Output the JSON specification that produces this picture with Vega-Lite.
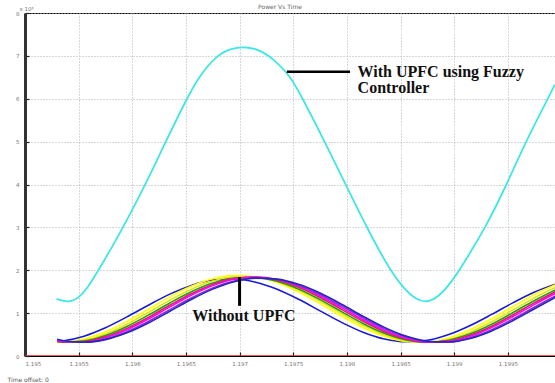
{
  "$schema": "https://vega.github.io/schema/vega-lite/v6.json",
  "width": 530,
  "height": 343,
  "autosize": {"type": "none"},
  "padding": {"left": 25, "top": 13, "right": 0, "bottom": 27},
  "background": "white",
  "title": {"text": "Power Vs Time", "fontSize": 6, "color": "#666", "font": "DejaVu Sans", "fontWeight": "normal", "offset": 2, "dx": -10, "dy": 6},
  "config": {
    "view": {"stroke": "#000", "strokeWidth": 1},
    "axis": {"gridDash": [1, 2], "gridColor": "#b0b0b0", "gridWidth": 1, "labelFont": "DejaVu Sans", "labelFontSize": 5.5, "labelColor": "#777", "tickColor": "#222", "tickSize": -4, "tickWidth": 1.2}
  },
  "datasets": {
    "curves": [
      {"s":"s1","t":1.1953,"v":0.337},{"s":"s1","t":1.19535,"v":0.351},{"s":"s1","t":1.19555,"v":0.463},{"s":"s1","t":1.19575,"v":0.659},{"s":"s1","t":1.19595,"v":0.912},{"s":"s1","t":1.19615,"v":1.185},{"s":"s1","t":1.19635,"v":1.443},{"s":"s1","t":1.19655,"v":1.646},{"s":"s1","t":1.19675,"v":1.771},{"s":"s1","t":1.19695,"v":1.797},{"s":"s1","t":1.19715,"v":1.721},{"s":"s1","t":1.19735,"v":1.556},{"s":"s1","t":1.19755,"v":1.322},{"s":"s1","t":1.19775,"v":1.053},{"s":"s1","t":1.19795,"v":0.785},{"s":"s1","t":1.19815,"v":0.556},{"s":"s1","t":1.19835,"v":0.397},{"s":"s1","t":1.19855,"v":0.332},{"s":"s1","t":1.19875,"v":0.367},{"s":"s1","t":1.19895,"v":0.5},{"s":"s1","t":1.19915,"v":0.711},{"s":"s1","t":1.19935,"v":0.97},{"s":"s1","t":1.19955,"v":1.244},{"s":"s1","t":1.19975,"v":1.492},{"s":"s1","t":1.19995,"v":1.682},
      {"s":"s2","t":1.1953,"v":0.32},{"s":"s2","t":1.19535,"v":0.322},{"s":"s2","t":1.19555,"v":0.393},{"s":"s2","t":1.19575,"v":0.563},{"s":"s2","t":1.19595,"v":0.807},{"s":"s2","t":1.19615,"v":1.092},{"s":"s2","t":1.19635,"v":1.378},{"s":"s2","t":1.19655,"v":1.625},{"s":"s2","t":1.19675,"v":1.8},{"s":"s2","t":1.19695,"v":1.877},{"s":"s2","t":1.19715,"v":1.847},{"s":"s2","t":1.19735,"v":1.714},{"s":"s2","t":1.19755,"v":1.495},{"s":"s2","t":1.19775,"v":1.222},{"s":"s2","t":1.19795,"v":0.932},{"s":"s2","t":1.19815,"v":0.665},{"s":"s2","t":1.19835,"v":0.458},{"s":"s2","t":1.19855,"v":0.34},{"s":"s2","t":1.19875,"v":0.328},{"s":"s2","t":1.19895,"v":0.422},{"s":"s2","t":1.19915,"v":0.612},{"s":"s2","t":1.19935,"v":0.867},{"s":"s2","t":1.19955,"v":1.156},{"s":"s2","t":1.19975,"v":1.436},{"s":"s2","t":1.19995,"v":1.67},
      {"s":"s3","t":1.1953,"v":0.325},{"s":"s3","t":1.19535,"v":0.32},{"s":"s3","t":1.19555,"v":0.366},{"s":"s3","t":1.19575,"v":0.513},{"s":"s3","t":1.19595,"v":0.74},{"s":"s3","t":1.19615,"v":1.015},{"s":"s3","t":1.19635,"v":1.301},{"s":"s3","t":1.19655,"v":1.557},{"s":"s3","t":1.19675,"v":1.748},{"s":"s3","t":1.19695,"v":1.848},{"s":"s3","t":1.19715,"v":1.844},{"s":"s3","t":1.19735,"v":1.735},{"s":"s3","t":1.19755,"v":1.536},{"s":"s3","t":1.19775,"v":1.276},{"s":"s3","t":1.19795,"v":0.991},{"s":"s3","t":1.19815,"v":0.718},{"s":"s3","t":1.19835,"v":0.497},{"s":"s3","t":1.19855,"v":0.358},{"s":"s3","t":1.19875,"v":0.322},{"s":"s3","t":1.19895,"v":0.39},{"s":"s3","t":1.19915,"v":0.557},{"s":"s3","t":1.19935,"v":0.797},{"s":"s3","t":1.19955,"v":1.078},{"s":"s3","t":1.19975,"v":1.36},{"s":"s3","t":1.19995,"v":1.605},
      {"s":"s4","t":1.1953,"v":0.334},{"s":"s4","t":1.19535,"v":0.323},{"s":"s4","t":1.19555,"v":0.35},{"s":"s4","t":1.19575,"v":0.477},{"s":"s4","t":1.19595,"v":0.689},{"s":"s4","t":1.19615,"v":0.953},{"s":"s4","t":1.19635,"v":1.237},{"s":"s4","t":1.19655,"v":1.498},{"s":"s4","t":1.19675,"v":1.701},{"s":"s4","t":1.19695,"v":1.818},{"s":"s4","t":1.19715,"v":1.833},{"s":"s4","t":1.19735,"v":1.744},{"s":"s4","t":1.19755,"v":1.563},{"s":"s4","t":1.19775,"v":1.315},{"s":"s4","t":1.19795,"v":1.035},{"s":"s4","t":1.19815,"v":0.76},{"s":"s4","t":1.19835,"v":0.53},{"s":"s4","t":1.19855,"v":0.376},{"s":"s4","t":1.19875,"v":0.32},{"s":"s4","t":1.19895,"v":0.369},{"s":"s4","t":1.19915,"v":0.517},{"s":"s4","t":1.19935,"v":0.742},{"s":"s4","t":1.19955,"v":1.015},{"s":"s4","t":1.19975,"v":1.296},{"s":"s4","t":1.19995,"v":1.548},
      {"s":"s5","t":1.1953,"v":0.345},{"s":"s5","t":1.19535,"v":0.33},{"s":"s5","t":1.19555,"v":0.337},{"s":"s5","t":1.19575,"v":0.446},{"s":"s5","t":1.19595,"v":0.644},{"s":"s5","t":1.19615,"v":0.901},{"s":"s5","t":1.19635,"v":1.184},{"s":"s5","t":1.19655,"v":1.452},{"s":"s5","t":1.19675,"v":1.669},{"s":"s5","t":1.19695,"v":1.804},{"s":"s5","t":1.19715,"v":1.838},{"s":"s5","t":1.19735,"v":1.769},{"s":"s5","t":1.19755,"v":1.602},{"s":"s5","t":1.19775,"v":1.365},{"s":"s5","t":1.19795,"v":1.088},{"s":"s5","t":1.19815,"v":0.809},{"s":"s5","t":1.19835,"v":0.568},{"s":"s5","t":1.19855,"v":0.398},{"s":"s5","t":1.19875,"v":0.323},{"s":"s5","t":1.19895,"v":0.352},{"s":"s5","t":1.19915,"v":0.483},{"s":"s5","t":1.19935,"v":0.695},{"s":"s5","t":1.19955,"v":0.962},{"s":"s5","t":1.19975,"v":1.244},{"s":"s5","t":1.19995,"v":1.505},
      {"s":"s6","t":1.1953,"v":0.357},{"s":"s6","t":1.19535,"v":0.337},{"s":"s6","t":1.19555,"v":0.329},{"s":"s6","t":1.19575,"v":0.425},{"s":"s6","t":1.19595,"v":0.612},{"s":"s6","t":1.19615,"v":0.863},{"s":"s6","t":1.19635,"v":1.145},{"s":"s6","t":1.19655,"v":1.417},{"s":"s6","t":1.19675,"v":1.643},{"s":"s6","t":1.19695,"v":1.791},{"s":"s6","t":1.19715,"v":1.84},{"s":"s6","t":1.19735,"v":1.785},{"s":"s6","t":1.19755,"v":1.63},{"s":"s6","t":1.19775,"v":1.401},{"s":"s6","t":1.19795,"v":1.128},{"s":"s6","t":1.19815,"v":0.847},{"s":"s6","t":1.19835,"v":0.597},{"s":"s6","t":1.19855,"v":0.417},{"s":"s6","t":1.19875,"v":0.327},{"s":"s6","t":1.19895,"v":0.341},{"s":"s6","t":1.19915,"v":0.459},{"s":"s6","t":1.19935,"v":0.662},{"s":"s6","t":1.19955,"v":0.923},{"s":"s6","t":1.19975,"v":1.205},{"s":"s6","t":1.19995,"v":1.471},
      {"s":"s7","t":1.1953,"v":0.373},{"s":"s7","t":1.19535,"v":0.351},{"s":"s7","t":1.19555,"v":0.323},{"s":"s7","t":1.19575,"v":0.399},{"s":"s7","t":1.19595,"v":0.568},{"s":"s7","t":1.19615,"v":0.806},{"s":"s7","t":1.19635,"v":1.082},{"s":"s7","t":1.19655,"v":1.354},{"s":"s7","t":1.19675,"v":1.589},{"s":"s7","t":1.19695,"v":1.751},{"s":"s7","t":1.19715,"v":1.819},{"s":"s7","t":1.19735,"v":1.783},{"s":"s7","t":1.19755,"v":1.648},{"s":"s7","t":1.19775,"v":1.434},{"s":"s7","t":1.19795,"v":1.169},{"s":"s7","t":1.19815,"v":0.89},{"s":"s7","t":1.19835,"v":0.636},{"s":"s7","t":1.19855,"v":0.442},{"s":"s7","t":1.19875,"v":0.336},{"s":"s7","t":1.19895,"v":0.33},{"s":"s7","t":1.19915,"v":0.428},{"s":"s7","t":1.19935,"v":0.615},{"s":"s7","t":1.19955,"v":0.864},{"s":"s7","t":1.19975,"v":1.142},{"s":"s7","t":1.19995,"v":1.411},
      {"s":"s8","t":1.1953,"v":0.389},{"s":"s8","t":1.19535,"v":0.363},{"s":"s8","t":1.19555,"v":0.321},{"s":"s8","t":1.19575,"v":0.382},{"s":"s8","t":1.19595,"v":0.54},{"s":"s8","t":1.19615,"v":0.77},{"s":"s8","t":1.19635,"v":1.042},{"s":"s8","t":1.19655,"v":1.318},{"s":"s8","t":1.19675,"v":1.56},{"s":"s8","t":1.19695,"v":1.734},{"s":"s8","t":1.19715,"v":1.816},{"s":"s8","t":1.19735,"v":1.794},{"s":"s8","t":1.19755,"v":1.672},{"s":"s8","t":1.19775,"v":1.468},{"s":"s8","t":1.19795,"v":1.208},{"s":"s8","t":1.19815,"v":0.928},{"s":"s8","t":1.19835,"v":0.668},{"s":"s8","t":1.19855,"v":0.465},{"s":"s8","t":1.19875,"v":0.345},{"s":"s8","t":1.19895,"v":0.325},{"s":"s8","t":1.19915,"v":0.409},{"s":"s8","t":1.19935,"v":0.584},{"s":"s8","t":1.19955,"v":0.827},{"s":"s8","t":1.19975,"v":1.103},{"s":"s8","t":1.19995,"v":1.375},
      {"s":"zero","t":1.195,"v":0},{"s":"zero","t":1.19994,"v":0}
    ],
    "fuzzy": [
      {"s":"fuzzy","t":1.195295,"v":1.33},{"s":"fuzzy","t":1.195407,"v":1.24},{"s":"fuzzy","t":1.195509,"v":1.36},{"s":"fuzzy","t":1.195602,"v":1.66},{"s":"fuzzy","t":1.195677,"v":1.97},{"s":"fuzzy","t":1.195807,"v":2.52},{"s":"fuzzy","t":1.195947,"v":3.15},{"s":"fuzzy","t":1.196143,"v":4.1},{"s":"fuzzy","t":1.196302,"v":4.95},{"s":"fuzzy","t":1.196497,"v":5.95},{"s":"fuzzy","t":1.196628,"v":6.55},{"s":"fuzzy","t":1.196786,"v":7.0},{"s":"fuzzy","t":1.196908,"v":7.17},{"s":"fuzzy","t":1.197066,"v":7.22},{"s":"fuzzy","t":1.197206,"v":7.12},{"s":"fuzzy","t":1.197327,"v":6.9},{"s":"fuzzy","t":1.197467,"v":6.55},{"s":"fuzzy","t":1.197579,"v":6.05},{"s":"fuzzy","t":1.197793,"v":5.0},{"s":"fuzzy","t":1.197999,"v":3.95},{"s":"fuzzy","t":1.198185,"v":3.0},{"s":"fuzzy","t":1.1984,"v":2.0},{"s":"fuzzy","t":1.198539,"v":1.55},{"s":"fuzzy","t":1.198642,"v":1.32},{"s":"fuzzy","t":1.198745,"v":1.24},{"s":"fuzzy","t":1.198856,"v":1.38},{"s":"fuzzy","t":1.198968,"v":1.7},{"s":"fuzzy","t":1.19908,"v":2.12},{"s":"fuzzy","t":1.199304,"v":3.05},{"s":"fuzzy","t":1.19949,"v":4.0},{"s":"fuzzy","t":1.199658,"v":4.95},{"s":"fuzzy","t":1.199863,"v":5.95},{"s":"fuzzy","t":1.199938,"v":6.33}
    ]
  },
  "layer": [
    {
      "data": {"name": "curves"},
      "mark": {"type": "line", "interpolate": "monotone", "strokeWidth": 1.6, "clip": true},
      "encoding": {
        "x": {"field": "t", "type": "quantitative", "scale": {"domain": [1.195, 1.19994], "nice": false, "zero": false},
          "axis": {"values": [1.195, 1.1955, 1.196, 1.1965, 1.197, 1.1975, 1.198, 1.1985, 1.199, 1.1995], "format": ".4~f", "labelPadding": 9, "domainColor": "#000", "title": "Time offset: 0", "titleFont": "DejaVu Sans", "titleFontSize": 6, "titleFontWeight": "normal", "titleColor": "#555", "titleAnchor": "start", "titleAlign": "left", "titleBaseline": "alphabetic", "titleX": -18, "titleY": 25}},
        "y": {"field": "v", "type": "quantitative", "scale": {"domain": [0, 8], "nice": false},
          "axis": {"values": [0, 1, 2, 3, 4, 5, 6, 7, 8], "labelPadding": 10, "domainColor": "#333", "domainWidth": 3, "title": "x 10⁶", "titleAngle": 0, "titleFont": "DejaVu Sans", "titleFontSize": 5.5, "titleFontWeight": "normal", "titleColor": "#777", "titleAlign": "left", "titleBaseline": "bottom", "titleX": -6, "titleY": -2}},
        "color": {"field": "s", "type": "nominal", "legend": null,
          "scale": {"domain": ["s1", "s2", "s3", "s4", "s5", "s6", "s7", "s8", "fuzzy", "zero"],
                    "range": ["#1a1ad6", "#ffff00", "#e6e600", "#1e9e1e", "#e0204a", "#ff00ff", "#8a2be2", "#2626b8", "#40e6e6", "#e02020"]}}
      }
    },
    {
      "data": {"name": "fuzzy"},
      "mark": {"type": "line", "interpolate": "basis", "strokeWidth": 1.8, "clip": true},
      "encoding": {
        "x": {"field": "t", "type": "quantitative"},
        "y": {"field": "v", "type": "quantitative"},
        "color": {"field": "s", "type": "nominal", "legend": null}
      }
    },
    {
      "data": {"values": [{"t": 1.19744, "t2": 1.19803, "v": 6.63}]},
      "mark": {"type": "rule", "color": "black", "strokeWidth": 2.5},
      "encoding": {"x": {"field": "t", "type": "quantitative"}, "x2": {"field": "t2"}, "y": {"field": "v", "type": "quantitative"}}
    },
    {
      "data": {"values": [{"t": 1.197, "v": 1.84, "v2": 1.17}]},
      "mark": {"type": "rule", "color": "black", "strokeWidth": 3},
      "encoding": {"x": {"field": "t", "type": "quantitative"}, "y": {"field": "v", "type": "quantitative"}, "y2": {"field": "v2"}}
    },
    {
      "data": {"values": [{"t": 1.1981, "v": 6.62, "label": "With UPFC using Fuzzy"}, {"t": 1.1981, "v": 6.26, "label": "Controller"}]},
      "mark": {"type": "text", "font": "Liberation Serif", "fontWeight": "bold", "fontSize": 16, "align": "left", "baseline": "middle", "color": "#111"},
      "encoding": {
        "x": {"field": "t", "type": "quantitative"},
        "y": {"field": "v", "type": "quantitative"},
        "text": {"field": "label"}
      }
    },
    {
      "data": {"values": [{"t": 1.19704, "v": 0.93, "label": "Without UPFC"}]},
      "mark": {"type": "text", "font": "Liberation Serif", "fontWeight": "bold", "fontSize": 16, "align": "center", "baseline": "middle", "color": "#111"},
      "encoding": {
        "x": {"field": "t", "type": "quantitative"},
        "y": {"field": "v", "type": "quantitative"},
        "text": {"field": "label"}
      }
    }
  ]
}
